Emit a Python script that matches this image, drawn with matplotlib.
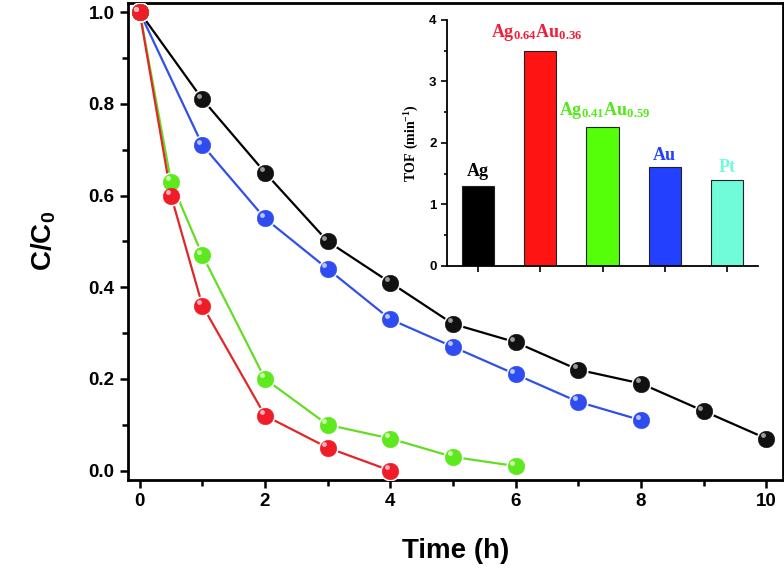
import matplotlib.pyplot as plt
import numpy as np
from matplotlib.ticker import MultipleLocator, FormatStrFormatter
from matplotlib.transforms import ScaledTranslation

plt.rcParams['font.family'] = ['Liberation Sans', 'DejaVu Sans']
plt.rcParams['mathtext.fontset'] = 'custom'
plt.rcParams['mathtext.sf'] = 'Liberation Sans:bold'
plt.rcParams['mathtext.bf'] = 'Liberation Serif:bold'

# decay curves
t_ag = [0, 1, 2, 3, 4, 5, 6, 7, 8, 9, 10]
c_ag = [1.0, 0.81, 0.65, 0.50, 0.41, 0.32, 0.28, 0.22, 0.19, 0.13, 0.07]
t_au = [0, 1, 2, 3, 4, 5, 6, 7, 8]
c_au = [1.0, 0.71, 0.55, 0.44, 0.33, 0.27, 0.21, 0.15, 0.11]
t_ag41 = [0, 0.5, 1, 2, 3, 4, 5, 6]
c_ag41 = [1.0, 0.63, 0.47, 0.20, 0.10, 0.07, 0.03, 0.01]
t_ag64 = [0, 0.5, 1, 2, 3, 4]
c_ag64 = [1.0, 0.60, 0.36, 0.12, 0.05, 0.0]

# inset TOF bars
catalysts = [r'$\mathbf{Ag}$', r'$\mathbf{Ag_{0.64}Au_{0.36}}$',
             r'$\mathbf{Ag_{0.41}Au_{0.59}}$', r'$\mathbf{Au}$', r'$\mathbf{Pt}$']
tof = [1.3, 3.5, 2.25, 1.6, 1.4]
bar_colors = ['#000000', '#ff1414', '#55ff0a', '#2340ff', '#70fcd8']
label_colors = ['#000000', '#f0203c', '#55e81a', '#2340ff', '#70fcd8']

fig = plt.figure(figsize=(7.84, 5.83), dpi=100)
ax = fig.add_axes([0.163, 0.177, 0.836, 0.818])

series = [
    (t_ag, c_ag, '#000000', '#111111', '#9a9a9a'),
    (t_au, c_au, '#3050e8', '#2f4cf0', '#b8c4ff'),
    (t_ag41, c_ag41, '#66dd22', '#5ee81e', '#d0ffb0'),
    (t_ag64, c_ag64, '#e02828', '#f01c28', '#ffb0c0'),
]
hl = ScaledTranslation(-2.5 / 72, 2.5 / 72, fig.dpi_scale_trans)
for x, y, lc, mc, hc in series:
    ax.plot(x, y, '-', color=lc, lw=1.6, zorder=2)
    ax.plot(x, y, 'o', ms=12, mfc=mc, mec='white', mew=2.5, zorder=3)
    ax.plot(x, y, 'o', ms=12, mfc=mc, mec=mc, mew=0.3, zorder=4)
    ax.plot(x, y, 'o', ms=3.5, mfc=hc, mec='none', zorder=5,
            transform=ax.transData + hl)

ax.set_xlim(-0.19, 10.27)
ax.set_ylim(-0.02, 1.02)
ax.xaxis.set_major_locator(MultipleLocator(2))
ax.xaxis.set_minor_locator(MultipleLocator(1))
ax.yaxis.set_major_locator(MultipleLocator(0.2))
ax.yaxis.set_minor_locator(MultipleLocator(0.1))
ax.yaxis.set_major_formatter(FormatStrFormatter('%.1f'))
ax.tick_params(which='both', direction='out', width=1.8, top=False, right=False)
ax.tick_params(which='major', length=6, labelsize=13.5)
ax.tick_params(which='minor', length=4)
for lab in ax.get_xticklabels() + ax.get_yticklabels():
    lab.set_fontweight('bold')
for s in ax.spines.values():
    s.set_linewidth(2)
ax.set_xlabel('Time (h)', fontsize=20, fontweight='bold', labelpad=20)
ax.set_ylabel(r'$\mathsf{C/C_0}$', fontsize=20, labelpad=22)

# inset
ins = fig.add_axes([0.570, 0.544, 0.397, 0.422])
pos = np.arange(len(tof))
ins.bar(pos, tof, width=0.52, color=bar_colors, edgecolor='#222222', lw=0.8)
ins.set_xlim(-0.5, 4.5)
ins.set_ylim(0, 4)
ins.set_xticks(pos)
ins.set_xticklabels([])
ins.yaxis.set_major_locator(MultipleLocator(1))
ins.yaxis.set_minor_locator(MultipleLocator(0.5))
ins.tick_params(which='both', direction='out', width=1.2, labelsize=9.5)
ins.tick_params(which='major', length=4)
ins.tick_params(which='minor', length=2.5)
for lab in ins.get_yticklabels():
    lab.set_fontweight('bold')
ins.spines['top'].set_visible(False)
ins.spines['right'].set_visible(False)
for s in ('left', 'bottom'):
    ins.spines[s].set_linewidth(1.3)
ins.set_ylabel(r'$\mathbf{TOF\ (min^{-1})}$', fontsize=10, labelpad=6)

label_x = [0, 0.94, 2.03, 3, 4]
label_y = [1.36, 3.62, 2.36, 1.66, 1.46]
for i, name in enumerate(catalysts):
    ins.text(label_x[i], label_y[i], name, ha='center', va='bottom',
             color=label_colors[i], fontsize=13)

fig.savefig('out.png', dpi=100)
